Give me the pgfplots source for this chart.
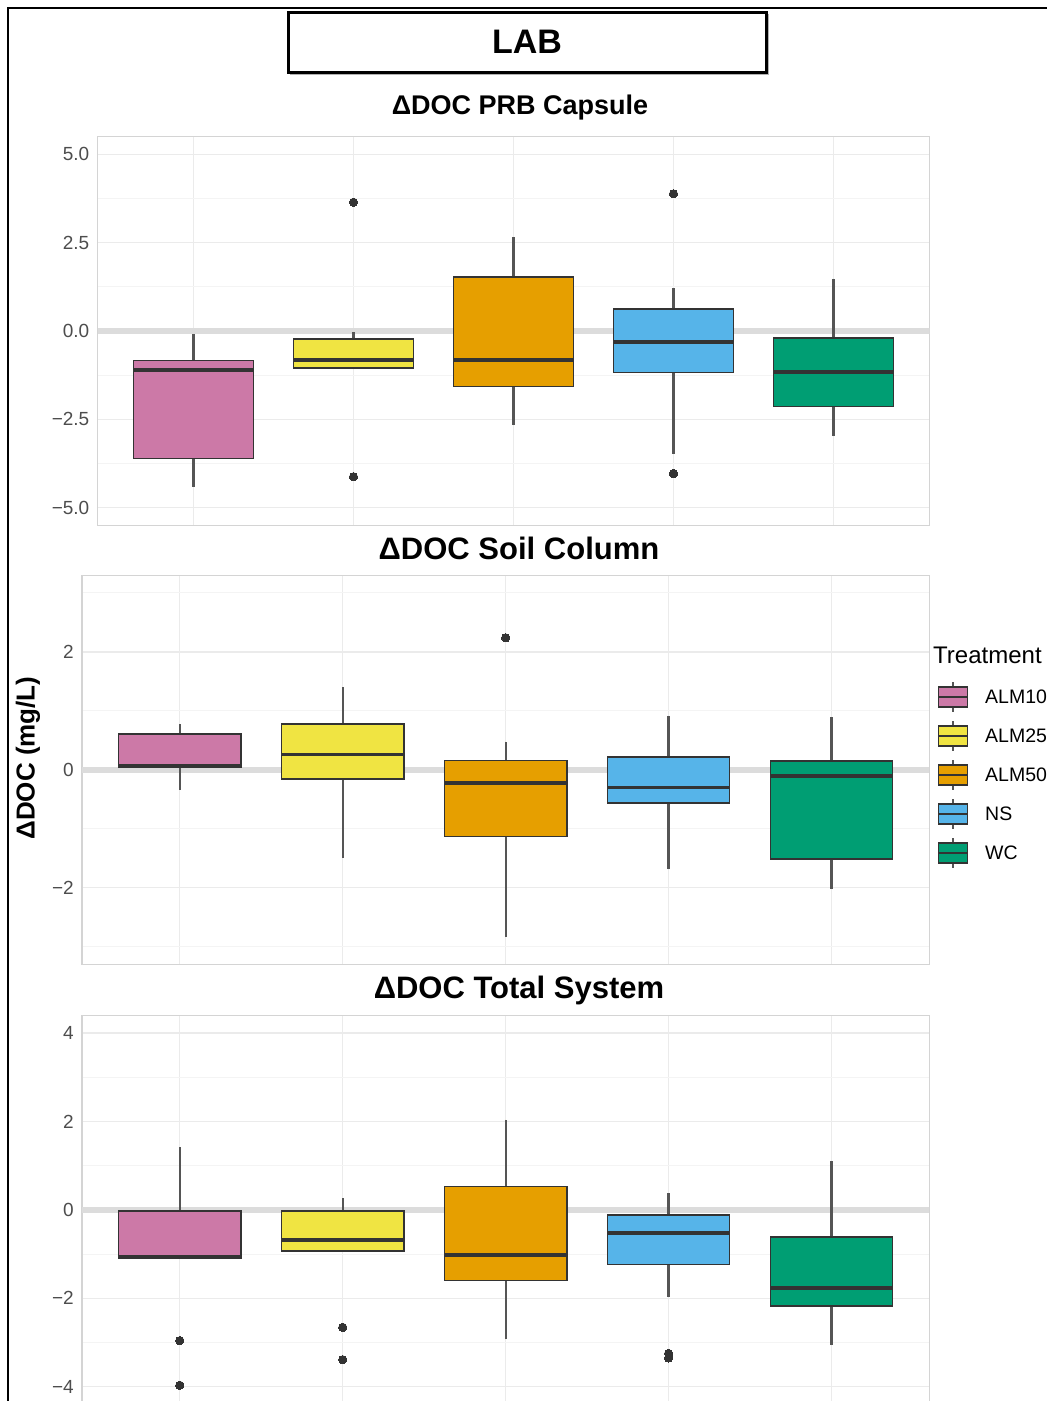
\documentclass[border=0pt]{standalone}
\usepackage{pgfplots}
\pgfplotsset{compat=1.18}
\usepgfplotslibrary{statistics}
\usepackage{fontspec}
\setmainfont{Liberation Sans}

% Okabe-Ito treatment colours
\definecolor{cALMten}{HTML}{CC79A7}
\definecolor{cALMtwentyfive}{HTML}{F0E442}
\definecolor{cALMfifty}{HTML}{E69F00}
\definecolor{cNS}{HTML}{56B4E9}
\definecolor{cWC}{HTML}{009E73}
\definecolor{boxline}{HTML}{333333}
\definecolor{whisk}{HTML}{555555}
\definecolor{gridmaj}{HTML}{EBEBEB}
\definecolor{gridmin}{HTML}{F4F4F4}
\definecolor{zeroline}{HTML}{DCDCDC}
\definecolor{panelborder}{HTML}{D4D4D4}
\definecolor{ticktext}{HTML}{4D4D4D}

\pgfplotsset{
  panel/.style={
    scale only axis, anchor=south west,
    xmin=0.4, xmax=5.6,
    xtick={1,2,3,4,5}, xticklabels={},
    major tick length=0pt, minor tick length=0pt,
    xmajorgrids, ymajorgrids, yminorgrids,
    major grid style={draw=gridmaj, line width=1.3pt},
    minor grid style={draw=gridmin, line width=1pt},
    axis line style={draw=panelborder, line width=1.2pt},
    tick label style={font=\fontsize{19}{22}\selectfont, text=ticktext},
    yticklabel style={inner sep=0pt, xshift=-8pt},
    boxplot/draw direction=y,
    boxplot/box extend=0.75,
    boxplot/whisker extend=0,
    boxplot/every box/.style={draw=boxline, line width=1.6pt},
    boxplot/every whisker/.style={draw=whisk, line width=2.2pt},
    boxplot/every median/.style={draw=boxline, line width=3.8pt},
  },
  bx/.style={solid, mark=*, mark size=4.2pt,
    mark options={fill=boxline, draw=boxline, line width=0pt}},
  zero/.style={draw=zeroline, line width=6pt, forget plot},
}

\begin{document}
\begin{tikzpicture}
\useasboundingbox (0pt,0pt) rectangle (1047pt,-1401pt);

% outer frame and header box
\draw[line width=2pt] (8pt,-1420pt) -- (8pt,-7.5pt) -- (1060pt,-7.5pt);
\draw[gray!60, line width=2pt] (290pt,-74pt) -- (768pt,-74pt) -- (768pt,-14pt);
\draw[line width=3pt] (288pt,-12pt) rectangle (766pt,-72pt);
\node[font=\bfseries\fontsize{34}{38}\selectfont, inner sep=0pt] at (527pt,-42pt) {LAB};

% ---------- PRB capsule ----------
\begin{axis}[panel, at={(97.5pt,-525.5pt)}, width=832pt, height=389pt,
  ymin=-5.5, ymax=5.5,
  ytick={-5,-2.5,0,2.5,5}, yticklabels={−5.0,−2.5,0.0,2.5,5.0},
  minor ytick={-3.75,-1.25,1.25,3.75}]
\addplot[zero] coordinates {(0.4,0) (5.6,0)};
\addplot[fill=cALMten, bx, boxplot prepared={draw position=1,
  lower whisker=-4.41, lower quartile=-3.60, median=-1.11,
  upper quartile=-0.83, upper whisker=-0.09}] coordinates {};
\addplot[fill=cALMtwentyfive, bx, boxplot prepared={draw position=2,
  lower whisker=-1.04, lower quartile=-1.04, median=-0.83,
  upper quartile=-0.23, upper whisker=-0.02}]
  table[row sep=\\, y index=0] {data\\ 3.64\\ -4.12\\};
\addplot[fill=cALMfifty, bx, boxplot prepared={draw position=3,
  lower whisker=-2.66, lower quartile=-1.57, median=-0.82,
  upper quartile=1.53, upper whisker=2.66}] coordinates {};
\addplot[fill=cNS, bx, boxplot prepared={draw position=4,
  lower whisker=-3.47, lower quartile=-1.17, median=-0.31,
  upper quartile=0.62, upper whisker=1.21}]
  table[row sep=\\, y index=0] {data\\ 3.88\\ -4.03\\};
\addplot[fill=cWC, bx, boxplot prepared={draw position=5,
  lower whisker=-2.97, lower quartile=-2.13, median=-1.16,
  upper quartile=-0.20, upper whisker=1.48}] coordinates {};
\end{axis}

% ---------- Soil column ----------
\begin{axis}[panel, at={(82pt,-964.3pt)}, width=847.3pt, height=389pt,
  ymin=-3.3, ymax=3.3,
  ytick={-2,0,2}, yticklabels={−2,0,2},
  minor ytick={-3,-1,1,3}]
\addplot[zero] coordinates {(0.4,0) (5.6,0)};
\addplot[fill=cALMten, bx, boxplot prepared={draw position=1,
  lower whisker=-0.34, lower quartile=0.04, median=0.06,
  upper quartile=0.61, upper whisker=0.77}] coordinates {};
\addplot[fill=cALMtwentyfive, bx, boxplot prepared={draw position=2,
  lower whisker=-1.50, lower quartile=-0.16, median=0.26,
  upper quartile=0.78, upper whisker=1.40}] coordinates {};
\addplot[fill=cALMfifty, bx, boxplot prepared={draw position=3,
  lower whisker=-2.83, lower quartile=-1.13, median=-0.22,
  upper quartile=0.16, upper whisker=0.48}]
  table[row sep=\\, y index=0] {data\\ 2.24\\};
\addplot[fill=cNS, bx, boxplot prepared={draw position=4,
  lower whisker=-1.69, lower quartile=-0.56, median=-0.30,
  upper quartile=0.22, upper whisker=0.92}] coordinates {};
\addplot[fill=cWC, bx, boxplot prepared={draw position=5,
  lower whisker=-2.02, lower quartile=-1.51, median=-0.10,
  upper quartile=0.15, upper whisker=0.89}] coordinates {};
\end{axis}

% ---------- Total system ----------
\begin{axis}[panel, at={(82pt,-1404.3pt)}, width=847.3pt, height=389pt,
  ymin=-4.4, ymax=4.4,
  ytick={-4,-2,0,2,4}, yticklabels={−4,−2,0,2,4},
  minor ytick={-3,-1,1,3}]
\addplot[zero] coordinates {(0.4,0) (5.6,0)};
\addplot[fill=cALMten, bx, boxplot prepared={draw position=1,
  lower whisker=-1.09, lower quartile=-1.09, median=-1.06,
  upper quartile=-0.02, upper whisker=1.41}]
  table[row sep=\\, y index=0] {data\\ -2.96\\ -3.97\\};
\addplot[fill=cALMtwentyfive, bx, boxplot prepared={draw position=2,
  lower whisker=-0.93, lower quartile=-0.93, median=-0.68,
  upper quartile=-0.02, upper whisker=0.27}]
  table[row sep=\\, y index=0] {data\\ -2.66\\ -3.39\\};
\addplot[fill=cALMfifty, bx, boxplot prepared={draw position=3,
  lower whisker=-2.93, lower quartile=-1.60, median=-1.02,
  upper quartile=0.53, upper whisker=2.04}] coordinates {};
\addplot[fill=cNS, bx, boxplot prepared={draw position=4,
  lower whisker=-1.98, lower quartile=-1.24, median=-0.52,
  upper quartile=-0.12, upper whisker=0.37}]
  table[row sep=\\, y index=0] {data\\ -3.25\\ -3.35\\};
\addplot[fill=cWC, bx, boxplot prepared={draw position=5,
  lower whisker=-3.06, lower quartile=-2.18, median=-1.76,
  upper quartile=-0.62, upper whisker=1.11}] coordinates {};
\end{axis}

% panel titles and shared y label
\node[font=\bfseries\fontsize{27}{30}\selectfont, inner sep=0pt] at (520pt,-108pt) {ΔDOC PRB Capsule};
\node[font=\bfseries\fontsize{31}{34}\selectfont, inner sep=0pt] at (519pt,-548pt) {ΔDOC Soil Column};
\node[font=\bfseries\fontsize{31}{34}\selectfont, inner sep=0pt] at (519pt,-990pt) {ΔDOC Total System};
\node[font=\bfseries\fontsize{26}{29}\selectfont, inner sep=0pt, rotate=90] at (28pt,-758pt) {ΔDOC (mg/L)};

% legend
\node[font=\fontsize{24}{27}\selectfont, anchor=west, inner sep=0pt] at (933pt,-655pt) {Treatment};
\foreach \c/\lab [count=\i from 0] in {cALMten/ALM10, cALMtwentyfive/ALM25, cALMfifty/ALM50, cNS/NS, cWC/WC}{
  \pgfmathsetmacro{\yc}{-697-39*\i}
  \draw[whisk, line width=1.8pt] (953pt,\yc pt+15pt) -- (953pt,\yc pt-15pt);
  \draw[boxline, line width=1.5pt, fill=\c] (938.5pt,\yc pt-10pt) rectangle (967.5pt,\yc pt+10pt);
  \draw[boxline, line width=2.4pt] (938.5pt,\yc pt) -- (967.5pt,\yc pt);
  \node[font=\fontsize{19.5}{22}\selectfont, anchor=west, inner sep=0pt] at (985pt,\yc pt) {\lab};
}
\end{tikzpicture}
\end{document}
